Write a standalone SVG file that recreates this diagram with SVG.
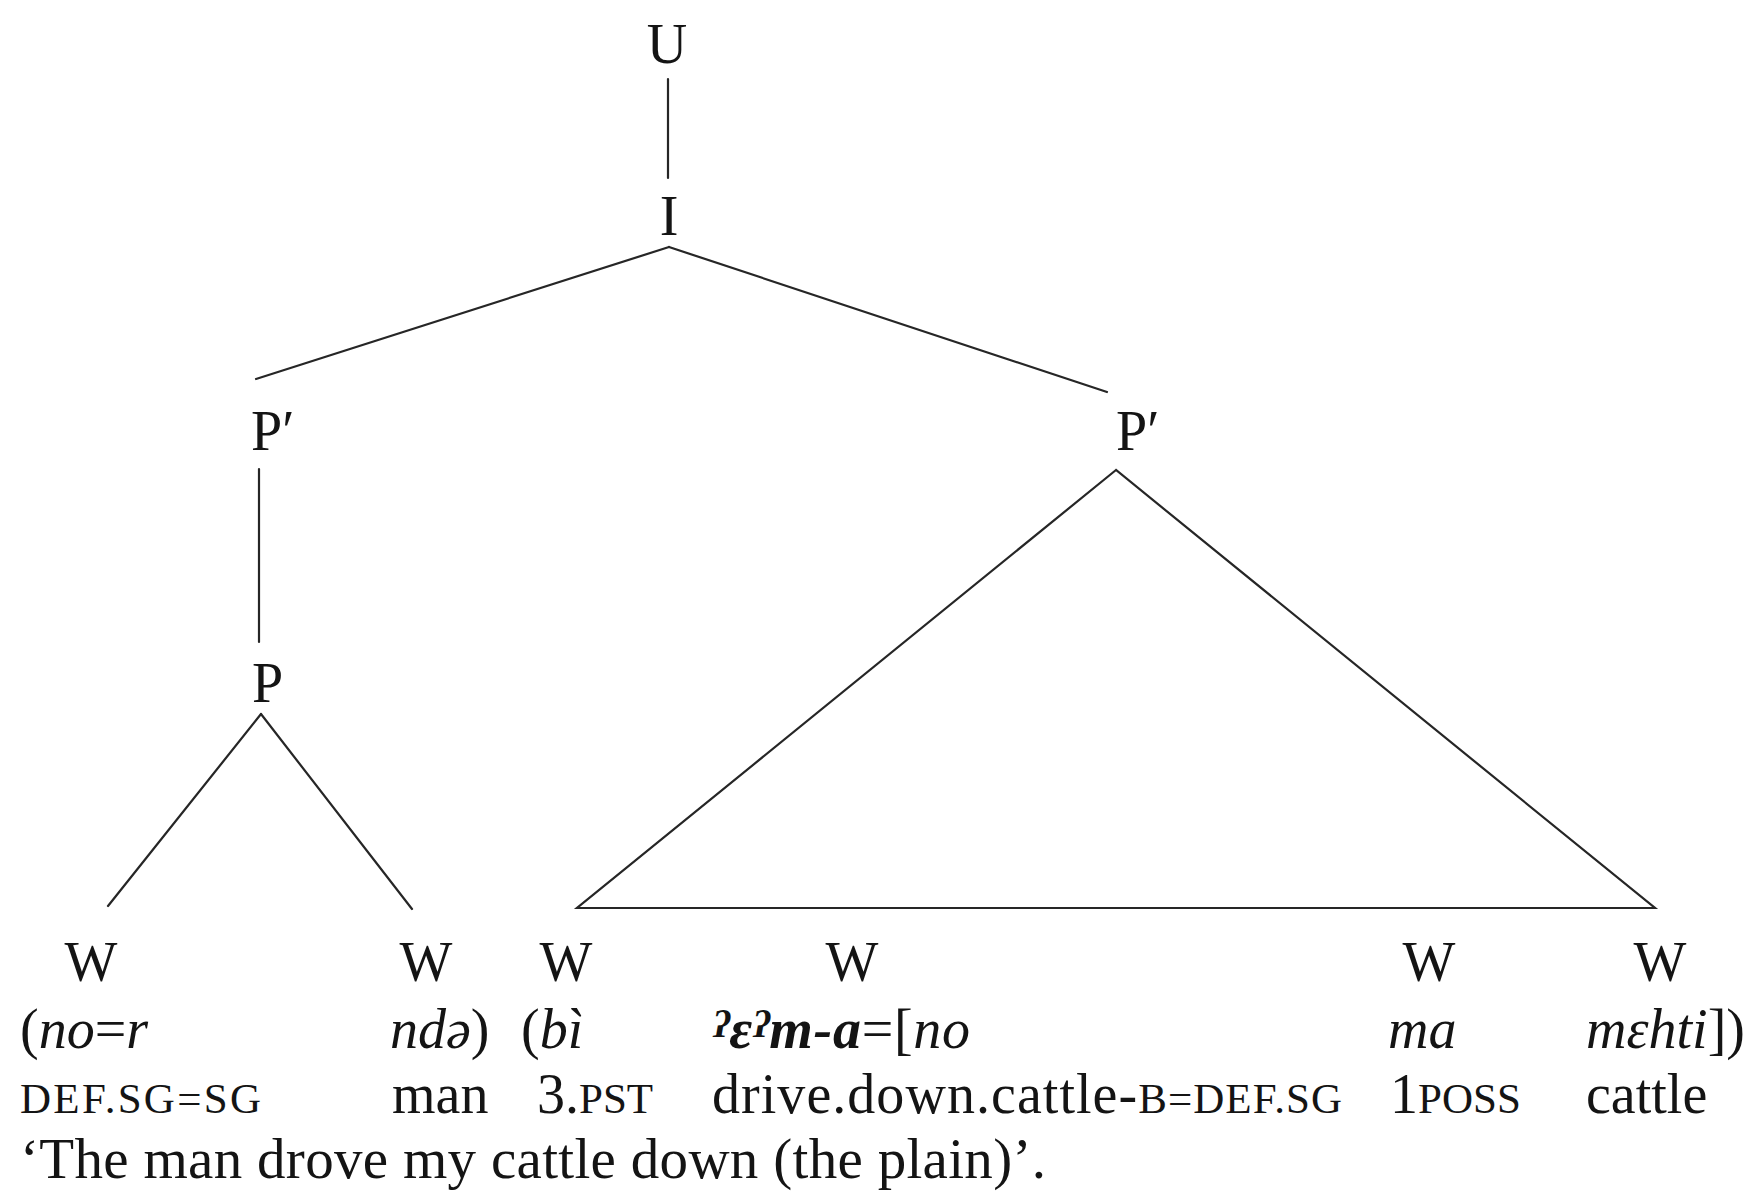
<svg xmlns="http://www.w3.org/2000/svg" width="1748" height="1191" viewBox="0 0 1748 1191">
<style>
text{font-family:"Liberation Serif","Times New Roman","DejaVu Serif",serif;font-size:56px;fill:#141414}
.n{text-anchor:middle}
.i{font-style:italic}
.b{font-weight:bold;font-style:italic}
.g{font-size:38px}
.sc{font-size:43px}
.e{stroke:#262626;stroke-width:2.2;fill:none;stroke-linecap:round}
</style>
<rect width="1748" height="1191" fill="#ffffff"/>
<g id="connectors" class="e">
<line x1="668" y1="79" x2="668" y2="178"/>
<line x1="669" y1="247" x2="256" y2="379"/>
<line x1="669" y1="247" x2="1107" y2="392"/>
<line x1="259" y1="469" x2="259" y2="642"/>
<line x1="261" y1="714" x2="108" y2="906"/>
<line x1="261" y1="714" x2="412" y2="909"/>
<path d="M1116 470 L577 908 L1655 908 Z" stroke-linejoin="miter"/>
</g>
<g id="node-U"><text class="n" x="667" y="63">U</text></g>
<g id="node-I"><text class="n" x="669" y="235">I</text></g>
<g id="node-Pbar-left"><text x="251" y="450">P′</text></g>
<g id="node-Pbar-right"><text x="1116" y="450">P′</text></g>
<g id="node-P"><text x="252" y="702">P</text></g>
<g id="node-W1"><text class="n" x="91" y="981">W</text></g>
<g id="node-W2"><text class="n" x="426" y="981">W</text></g>
<g id="node-W3"><text class="n" x="566" y="981">W</text></g>
<g id="node-W4"><text class="n" x="852" y="981">W</text></g>
<g id="node-W5"><text class="n" x="1429" y="981">W</text></g>
<g id="node-W6"><text class="n" x="1660" y="981">W</text></g>
<g id="line-vernacular">
<text x="20" y="1048">(<tspan class="i">no</tspan>=<tspan class="i">r</tspan></text>
<text x="390" y="1048"><tspan class="i">ndə</tspan>)</text>
<text x="521" y="1048">(<tspan class="i">bì</tspan></text>
<text x="713" y="1048" textLength="257"><tspan class="b g" dy="-11">ʔ</tspan><tspan class="b" dy="11">ɛ</tspan><tspan class="b g" dy="-11">ʔ</tspan><tspan class="b" dy="11">m-a</tspan>=[<tspan class="i">no</tspan></text>
<text x="1388" y="1048" class="i">ma</text>
<text x="1586" y="1048"><tspan class="i">mɛhti</tspan>])</text>
</g>
<g id="line-gloss">
<text x="20" y="1113" class="sc" textLength="241">DEF.SG=SG</text>
<text x="392" y="1113">man</text>
<text x="537" y="1113">3.<tspan class="sc">PST</tspan></text>
<text x="712" y="1113" textLength="630">drive.down.cattle-<tspan class="sc">B=DEF.SG</tspan></text>
<text x="1390" y="1113">1<tspan class="sc">POSS</tspan></text>
<text x="1586" y="1113">cattle</text>
</g>
<g id="line-translation">
<text x="20" y="1178" style="font-size:57px" textLength="1026">‘The man drove my cattle down (the plain)’.</text>
</g>
</svg>
